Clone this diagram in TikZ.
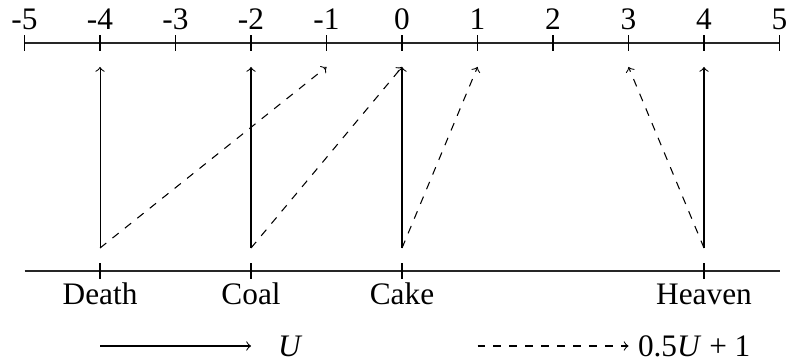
\documentclass[tikz,border=0pt]{standalone}
\usepackage{fontspec}
\setmainfont{Liberation Serif}
\begin{document}
\begin{tikzpicture}[x=1cm,y=1cm,
  axisline/.style={line width=0.45pt, black!85},
  tickline/.style={line width=0.45pt},
  lab/.style={font=\fontsize{11.8}{14}\selectfont, inner sep=0pt, anchor=base},
  solidarrow/.style={->, line width=0.4pt},
  dasharrow/.style={->, dashed, line width=0.4pt}]
\useasboundingbox (-5.325,0) rectangle (5.086,-4.768);
% top axis
\coordinate (tl) at (-4.993,-0.570);
\coordinate (tr) at (5.0,-0.570);
\draw[axisline] (tl) -- (tr);
\foreach \v in {-5,...,5} {
  \coordinate (t\v) at (\v,-0.570);
  \draw[tickline] (\v,-0.47) -- (\v,-0.67);
  \node[lab] (n\v) at (\v,-0.39) {\v};
}
% bottom axis
\coordinate (bl) at (-5.0,-3.589);
\coordinate (br) at (5.0,-3.589);
\draw[axisline] (bl) -- (br);
\foreach \v/\name in {-4/Death,-2/Coal,0/Cake,4/Heaven} {
  \draw[tickline] (\v,-3.489) -- (\v,-3.689);
  \node[lab] (l\v) at (\v,-4.035) {\name};
}
% arrow endpoints
\foreach \v in {-4,-2,0,4} { \coordinate (s\v) at (\v,-3.285); }
\foreach \v in {-4,-2,-1,0,1,3,4} { \coordinate (e\v) at (\v,-0.887); }
% solid arrows U
\draw[solidarrow] (s-4) -- (e-4);
\draw[solidarrow] (s-2) -- (e-2);
\draw[solidarrow] (s0) -- (e0);
\draw[solidarrow] (s4) -- (e4);
% dashed arrows 0.5U+1
\draw[dasharrow] (s-4) -- (e-1);
\draw[dasharrow] (s-2) -- (e0);
\draw[dasharrow] (s0) -- (e1);
\draw[dasharrow] (s4) -- (e3);
% legend
\coordinate (la1) at (-4,-4.583);
\coordinate (la2) at (-2,-4.583);
\draw[solidarrow] (la1) -- (la2);
\node[lab] (lu) at (-1.48,-4.725) {\textit{U}};
\coordinate (lb1) at (1,-4.583);
\coordinate (lb2) at (3,-4.583);
\draw[dasharrow] (lb1) -- (lb2);
\node[lab] (lv) at (3.87,-4.725) {0.5\textit{U} + 1};
\end{tikzpicture}
\end{document}
